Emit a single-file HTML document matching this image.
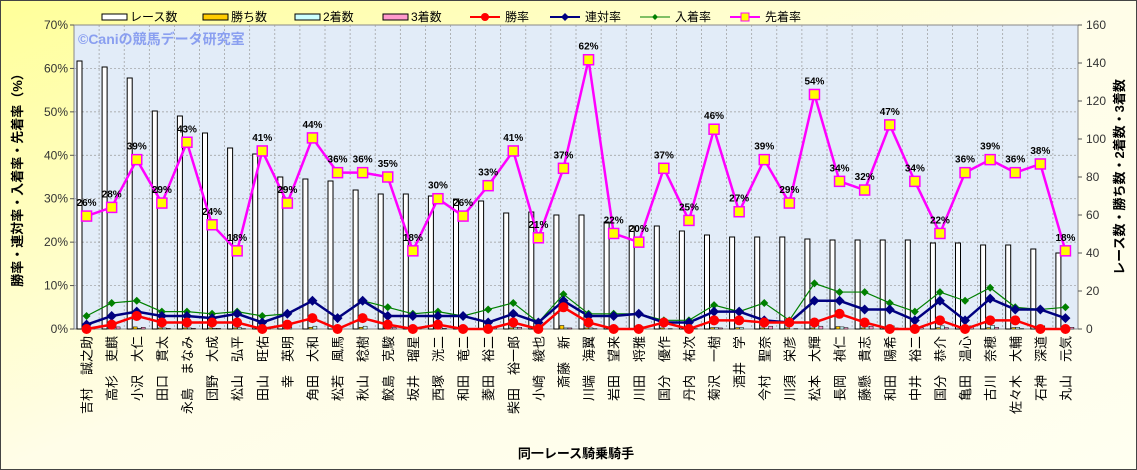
<!DOCTYPE html>
<html><head><meta charset="utf-8"><style>
html,body{margin:0;padding:0;width:1137px;height:470px;overflow:hidden;background:#fffde0}
svg{display:block;font-family:"Liberation Sans","Noto Sans CJK JP",sans-serif}
</style></head><body>
<svg id="c" width="1137" height="470" xmlns="http://www.w3.org/2000/svg">
<defs>
<linearGradient id="bg" x1="0" y1="0" x2="1" y2="1"><stop offset="0" stop-color="#ffff99"/><stop offset="0.5" stop-color="#fffde8"/><stop offset="1" stop-color="#fffff0"/></linearGradient>
</defs>
<rect x="0.5" y="0.5" width="1136" height="469" fill="url(#bg)" stroke="#444"/>
<rect x="74" y="25" width="1004" height="304" fill="#e2ecf8" stroke="#888"/>
<g id="grid"></g>
<g id="bars"></g>
<g id="lines"></g>
<g id="labels" font-size="13" fill="#000"></g>
<text x="78" y="44" font-size="14" font-weight="bold" fill="#8a9ff0">©Caniの競馬データ研究室</text>
<g font-size="12">
<rect x="102" y="14" width="25" height="6" fill="#fff" stroke="#000"/><text x="130" y="21">レース数</text>
<rect x="203" y="14" width="25" height="6" fill="#ffcc00" stroke="#000"/><text x="231" y="21">勝ち数</text>
<rect x="295" y="14" width="25" height="6" fill="#ccffff" stroke="#000"/><text x="323" y="21">2着数</text>
<rect x="383" y="14" width="25" height="6" fill="#ff99cc" stroke="#000"/><text x="411" y="21">3着数</text>
<line x1="470" y1="17" x2="500" y2="17" stroke="#f00" stroke-width="2"/><circle cx="485" cy="17" r="4" fill="#f00"/><text x="505" y="21">勝率</text>
<line x1="550" y1="17" x2="580" y2="17" stroke="#000080" stroke-width="2"/><path d="M565 13l4 4-4 4-4-4z" fill="#000080"/><text x="585" y="21">連対率</text>
<line x1="640" y1="17" x2="670" y2="17" stroke="#008000"/><path d="M655 14l3 3-3 3-3-3z" fill="#008000"/><text x="675" y="21">入着率</text>
<line x1="730" y1="17" x2="760" y2="17" stroke="#f0f" stroke-width="2"/><rect x="741" y="13" width="8" height="8" fill="#ff0" stroke="#f0f"/><text x="765" y="21">先着率</text>
</g>
<g id="axes" font-size="12" fill="#333"></g>
<text transform="translate(22 177) rotate(-90)" text-anchor="middle" font-size="13" font-weight="bold">勝率・連対率・入着率・先着率（%）</text>
<text transform="translate(1124 177) rotate(-90)" text-anchor="middle" font-size="13" font-weight="bold">レース数・勝ち数・2着数・3着数</text>
<text x="576" y="458" text-anchor="middle" font-size="13" font-weight="bold">同一レース騎乗騎手</text>
</svg>
<script>
var N=["吉村　誠之助","高杉　吏麒","小沢　大仁","田口　貫太","永島　まなみ","団野　大成","松山　弘平","田山　旺佑","幸　英明","角田　大和","松若　風馬","秋山　稔樹","鮫島　克駿","坂井　瑠星","西塚　洸二","和田　竜二","菱田　裕二","柴田　裕一郎","小崎　綾也","斎藤　新","川端　海翼","岩田　望来","川田　将雅","国分　優作","丹内　祐次","菊沢　一樹","酒井　学","今村　聖奈","川須　栄彦","松本　大輝","長岡　禎仁","藤懸　貴志","和田　陽希","中井　裕二","国分　恭介","亀田　温心","古川　奈穂","佐々木　大輔","石神　深道","丸山　元気"];
var R=[61,67,78,111,116,133,148,154,177,179,181,190,194,194,196,199,201,213,212,215,215,222,226,226,231,235,237,237,237,239,240,240,240,240,243,243,245,245,249,253];
var S=[26,28,39,29,43,24,18,41,29,44,36,36,35,18,30,26,33,41,21,37,62,22,20,37,25,46,27,39,29,54,34,32,47,34,22,36,39,36,38,18];
var G=[3,6,6.5,4,4,3.5,4,3,3.5,6.5,2.5,6.5,5,3.5,4,3,4.5,6,1.5,8,3.5,3.5,3.5,2,2,5.5,4,6,2,10.5,8.5,8.5,6,4,8.5,6.5,9.5,5,4.5,5];
var B=[1,3,4,3,3,2.5,3.5,1.5,3.5,6.5,2.5,6.5,3,3,3,3,1.5,3.5,1.5,6.5,3,3,3.5,1.5,1.5,4,4,2,1.5,6.5,6.5,4.5,4.5,2,6.5,2,7,4.5,4.5,2.5];
var W=[0,1,3,1.5,1.5,1.5,1.5,0,1,2.5,0,2.5,1,0,1,0,0,1.5,0,5,1.5,0,0,1.5,0,2,2,1.5,1.5,1.5,3.5,1.5,0,0,2,0,2,2,0,0];
var ns="http://www.w3.org/2000/svg",X0=74,DX=1004/40;
function el(p,t,a,txt){var e=document.createElementNS(ns,t);for(var k in a)e.setAttribute(k,a[k]);if(txt!=null)e.textContent=txt;document.getElementById(p).appendChild(e);return e;}
function py(p){return 329-p*304/70;}
for(var i=1;i<40;i++){var x=X0+i*DX;el("grid","line",{x1:x,y1:25,x2:x,y2:329,stroke:"#999","stroke-dasharray":"2,2","stroke-width":0.7});}
for(var k=1;k<7;k++){var y=py(k*10);el("grid","line",{x1:74,y1:y,x2:1078,y2:y,stroke:"#999","stroke-dasharray":"2,2","stroke-width":0.7});}
for(var k=0;k<=7;k++){var y=py(k*10);el("axes","text",{x:68,y:y+4,"text-anchor":"end"},k*10+"%");el("axes","line",{x1:70,y1:y,x2:74,y2:y,stroke:"#555"});}
for(var k=0;k<=8;k++){var y=329-k*38;el("axes","text",{x:1086,y:y+4},String(k*20));el("axes","line",{x1:1078,y1:y,x2:1082,y2:y,stroke:"#555"});}
var gp=[],bp=[],wp=[],sp=[];
for(var i=0;i<40;i++){var c=X0+(i+0.5)*DX,bx=X0+i*DX+3;
el("bars","rect",{x:bx,y:R[i],width:5,height:329-R[i],fill:"#fff",stroke:"#000","stroke-width":1});
var wh=W[i]*0.7,sh=(B[i]-W[i])*0.7,th=(G[i]-B[i])*0.7;
if(wh>0)el("bars","rect",{x:bx+6,y:329-wh,width:4,height:wh,fill:"#ffcc00",stroke:"#000","stroke-width":0.5});
if(sh>0)el("bars","rect",{x:bx+10,y:329-sh,width:4,height:sh,fill:"#ccffff",stroke:"#000","stroke-width":0.5});
if(th>0)el("bars","rect",{x:bx+14,y:329-th,width:4,height:th,fill:"#ff99cc",stroke:"#000","stroke-width":0.5});
gp.push(c+","+py(G[i]));bp.push(c+","+py(B[i]));wp.push(c+","+py(W[i]));sp.push(c+","+py(S[i]));
el("labels","text",{transform:"translate("+(c+5)+" 336) rotate(-90)","text-anchor":"end"},N[i]);
}
el("lines","polyline",{points:gp.join(" "),fill:"none",stroke:"#008000","stroke-width":1.2});
el("lines","polyline",{points:bp.join(" "),fill:"none",stroke:"#000080","stroke-width":2.5});
el("lines","polyline",{points:wp.join(" "),fill:"none",stroke:"#ff0000","stroke-width":2.5});
el("lines","polyline",{points:sp.join(" "),fill:"none",stroke:"#ff00ff","stroke-width":2.5});
for(var i=0;i<40;i++){var c=X0+(i+0.5)*DX;
var y=py(G[i]);el("lines","path",{d:"M"+c+" "+(y-4)+"l4 4-4 4-4-4z",fill:"#008000"});
y=py(B[i]);el("lines","path",{d:"M"+c+" "+(y-5)+"l5 5-5 5-5-5z",fill:"#000080"});
y=py(W[i]);el("lines","circle",{cx:c,cy:y,r:5,fill:"#ff0000"});
y=py(S[i]);el("lines","rect",{x:c-5,y:y-5,width:10,height:10,fill:"#ffff00",stroke:"#ff00ff","stroke-width":1.5});
el("lines","text",{x:c,y:y-10,"text-anchor":"middle","font-size":10,"font-weight":"bold"},S[i]+"%");
}
</script>
</body></html>
